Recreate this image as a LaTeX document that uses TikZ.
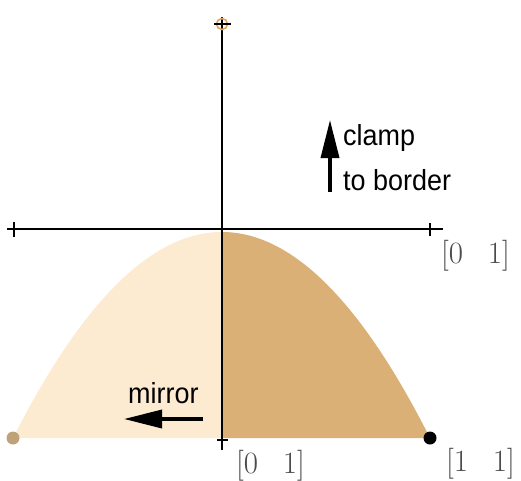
\documentclass[tikz,border=0pt]{standalone}
\usepackage{fontspec}
\newfontfamily\labelfont[FakeStretch=0.93]{Liberation Sans}
\usetikzlibrary{arrows.meta}

\definecolor{lightsand}{RGB}{252,235,208}
\definecolor{darksand}{RGB}{218,176,118}
\definecolor{dotsand}{RGB}{190,162,122}
\definecolor{ringorange}{RGB}{222,165,100}
\definecolor{matgrey}{RGB}{75,75,75}

\begin{document}
\begin{tikzpicture}[x=1pt,y=1pt,yscale=-1,xscale=1,
  axis/.style={line width=1.1pt},
  matlabel/.style={anchor=base west,inner sep=0pt,text=matgrey,font=\fontsize{31}{31}\selectfont},
  wordlabel/.style={anchor=base west,inner sep=0pt,font=\labelfont\fontsize{29}{29}\selectfont},
  bigarrow/.style={line width=3.5pt,-{Triangle[length=38pt,width=18pt]}}]
\useasboundingbox (0,0) rectangle (521,480);

%Shape: left half of the bump
\fill[lightsand] (222,438) -- plot[domain=-209:0,samples=80] ({222+\x},{232+206*(\x/209)^2}) -- cycle;
%Shape: right half of the bump
\fill[darksand] (222,438) -- plot[domain=0:208,samples=80] ({222+\x},{232+206*(\x/208)^2}) -- cycle;

%Straight Lines: axes and ticks
\draw[axis] (7,229) -- (443,229);
\draw[axis] (14,222) -- (14,237);
\draw[axis] (430,223) -- (430,236);
\draw[axis] (222,17) -- (222,450);
\draw[axis] (217,440) -- (228,440);

%Shape: ring on top
\draw[ringorange,line width=1.6pt] (222,24) circle[radius=5.5];
\draw[axis] (214,24) -- (231,24);

%Shape: end dots
\fill[dotsand] (13,438) circle[radius=6.5];
\fill[black] (430,438) circle[radius=6.5];

% Text Node
\node[matlabel] (xend) at (441,263) {[0\hspace{0.8em}1]};
% Text Node
\node[matlabel] (origin) at (236,473) {[0\hspace{0.8em}1]};
% Text Node
\node[matlabel] (corner) at (446,471) {[1\hspace{0.8em}1]};

% Text Node
\node[wordlabel] (clamp) at (343,145) {clamp};
% Text Node
\node[wordlabel] (border) at (343,190) {to border};
% Text Node
\node[wordlabel] (mirror) at (128,403) {mirror};

%Arrows
\coordinate (upfoot) at (330,192);
\coordinate (uptip) at (330,120);
\draw[bigarrow] (upfoot) -- (uptip);
\coordinate (leftfoot) at (203,419);
\coordinate (lefttip) at (124,419);
\draw[bigarrow] (leftfoot) -- (lefttip);
\end{tikzpicture}
\end{document}
